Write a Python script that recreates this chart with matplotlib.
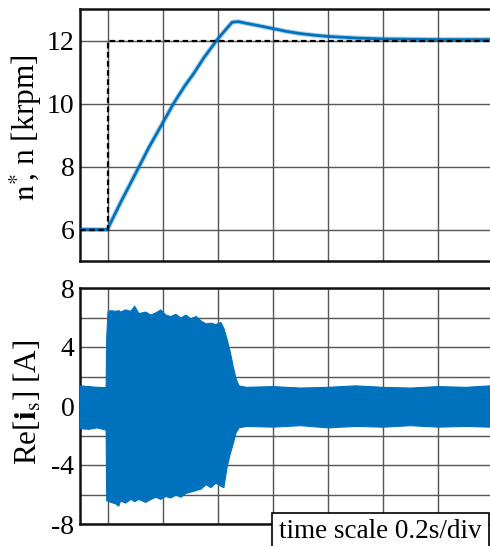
import numpy as np
import matplotlib.pyplot as plt
from matplotlib.patches import Rectangle

# time axis in seconds (0.2 s per division)
T_REF = [0.0, 0.1, 0.1, 1.49]
N_REF = [6.0, 6.0, 12.0, 12.0]

T_SPEED = [0.0, 0.1, 0.110, 0.15, 0.195, 0.25, 0.292, 0.340, 0.38, 0.413,
           0.45, 0.498, 0.53, 0.553, 0.575, 0.602, 0.65, 0.7, 0.75, 0.8,
           0.85, 0.9, 1.0, 1.1, 1.3, 1.49]
N_SPEED = [6.0, 6.0, 6.19, 6.9, 7.66, 8.6, 9.25, 10.0, 10.55, 10.95,
           11.45, 12.02, 12.35, 12.58, 12.6, 12.55, 12.47, 12.38, 12.29, 12.22,
           12.17, 12.13, 12.08, 12.05, 12.03, 12.03]

# current envelope (upper / lower)
T_CUR = [0.0, 0.03, 0.06, 0.093, 0.0953, 0.1, 0.110, 0.128, 0.139, 0.146,
         0.164, 0.183, 0.197, 0.212, 0.237, 0.256, 0.274, 0.292, 0.310, 0.328,
         0.347, 0.365, 0.383, 0.401, 0.420, 0.438, 0.456, 0.474, 0.492, 0.510,
         0.521, 0.532, 0.543, 0.554, 0.565, 0.576, 0.602, 0.7, 0.8, 0.9,
         1.0, 1.1, 1.2, 1.3, 1.4, 1.49]
I_UP = [1.4, 1.35, 1.3, 1.28, 4.7, 6.4, 6.5, 6.45, 6.5, 6.4,
        6.55, 6.45, 6.8, 6.3, 6.4, 6.2, 6.35, 6.55, 6.2, 6.1,
        6.25, 6.0, 6.2, 5.95, 6.1, 5.8, 5.6, 5.65, 5.55, 5.7,
        5.3, 4.6, 3.8, 2.8, 1.9, 1.4, 1.3, 1.35, 1.25, 1.3,
        1.4, 1.3, 1.25, 1.35, 1.3, 1.4]
I_LO = [-1.5, -1.55, -1.45, -1.6, -6.4, -6.4, -6.5, -6.6, -6.75, -6.4,
        -6.55, -6.3, -6.45, -6.3, -6.5, -6.3, -6.15, -6.3, -6.1, -6.2,
        -6.0, -6.15, -5.9, -5.8, -5.7, -5.6, -5.3, -5.5, -5.2, -5.4,
        -5.5, -4.2, -3.3, -2.6, -1.8, -1.45, -1.35, -1.4, -1.3, -1.45,
        -1.35, -1.4, -1.3, -1.4, -1.35, -1.4]

X_GRID = [0.1, 0.3, 0.5, 0.7, 0.9, 1.1, 1.3]
N_TICKS = [6, 8, 10, 12]
I_TICKS = [-8, -6, -4, -2, 0, 2, 4, 6, 8]
I_LABELS = ['-8', '', '-4', '', '0', '', '4', '', '8']

BLUE = '#0072BD'

plt.rcParams['font.family'] = ['Liberation Serif', 'DejaVu Serif']
plt.rcParams['mathtext.fontset'] = 'stix'

fig = plt.figure(figsize=(4.9, 5.46), dpi=100)
ax1 = fig.add_axes([80/490, 1-261/546, 1-80/490, (261-9)/546])
ax2 = fig.add_axes([80/490, 1-524/546, 1-80/490, (524-288)/546])


def style(ax):
    ax.set_xlim(0, 1.49)
    ax.set_xticks(X_GRID)
    ax.set_xticklabels([])
    ax.grid(True, color='#555555', lw=1.0)
    ax.set_axisbelow(True)
    ax.tick_params(length=0, labelsize=20, pad=4)
    ax.spines['right'].set_visible(False)
    for s in ['left', 'top', 'bottom']:
        ax.spines[s].set_linewidth(1.8)
        ax.spines[s].set_color('#111111')


# speed
ax1.plot(T_SPEED, N_SPEED, color=BLUE, lw=3.6, alpha=0.3, zorder=2)
ax1.plot(T_SPEED, N_SPEED, color=BLUE, lw=2.0, zorder=3)
ax1.plot(T_REF, N_REF, color='black', lw=1.6, dashes=(2.5, 1.6), zorder=4)
style(ax1)
ax1.set_ylim(5, 13)
ax1.set_yticks(N_TICKS)
ax1.set_ylabel(r'$\mathrm{n}^{*}\!\!$, n [krpm]', fontsize=22.5)
ax1.yaxis.set_label_coords(-0.088, 0.53)

# current
ax2.fill_between(T_CUR, I_LO, I_UP, color=BLUE, lw=0.8, edgecolor=BLUE, zorder=3)
style(ax2)
ax2.set_ylim(-8, 8)
ax2.set_yticks(I_TICKS)
ax2.set_yticklabels(I_LABELS)
ax2.set_ylabel(r'Re[$\mathbf{i}_{\mathrm{s}}$] [A]', fontsize=22.5)
ax2.yaxis.set_label_coords(-0.088, 0.515)

# time scale box
fig.patches.append(Rectangle((272/490, -0.05), (489-272)/490, 0.05 + 1 - 513/546,
                             transform=fig.transFigure, fc='white', ec='black',
                             lw=1.2, zorder=10))
fig.text(279/490, 1-538/546, 'time scale 0.2s/div', fontsize=19.5,
         va='baseline', ha='left', zorder=11)

fig.savefig('out.png', dpi=100)
